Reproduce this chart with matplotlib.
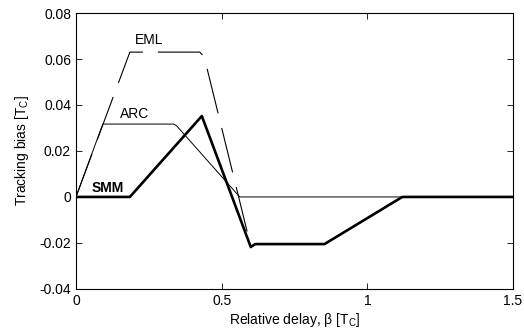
import matplotlib
matplotlib.use("Agg")
import matplotlib.pyplot as plt

plt.rcParams['font.family'] = ['Liberation Sans', 'DejaVu Sans']
plt.rcParams['mathtext.fontset'] = 'custom'
plt.rcParams['mathtext.rm'] = 'Liberation Sans'
plt.rcParams['font.size'] = 10

# curves (x in chips, y in chips)
eml_x = [0, 0.185, 0.425, 0.44, 0.60, 0.615, 0.853, 1.12, 1.5]
eml_y = [0, 0.063, 0.063, 0.061, -0.0215, -0.0205, -0.0205, 0, 0]

arc_x = [0, 0.092, 0.335, 0.345, 0.562, 1.5]
arc_y = [0, 0.0317, 0.0317, 0.031, 0, 0]

smm_x = [0, 0.185, 0.432, 0.60, 0.615, 0.853, 1.12, 1.5]
smm_y = [0, 0, 0.0352, -0.0218, -0.0205, -0.0205, 0, 0]

xticks = [0, 0.5, 1, 1.5]
yticks = [-0.04, -0.02, 0, 0.02, 0.04, 0.06, 0.08]
ytick_labels = ['-0.04', '-0.02', '0', '0.02', '0.04', '0.06', '0.08']

fig = plt.figure(figsize=(5.24, 3.34), dpi=100)
ax = fig.add_axes([0.145, 0.135, 0.834, 0.826])

lw = 0.8
ax.plot(eml_x, eml_y, color='black', lw=lw, linestyle=(0, (33.0 / lw, 10.8 / lw)))
ax.plot(arc_x, arc_y, color='black', lw=0.7)
ax.plot(smm_x, smm_y, color='black', lw=1.9)

ax.text(0.25, 0.0683, 'EML', ha='center', va='center')
ax.text(0.202, 0.0361, 'ARC', ha='center', va='center')
ax.text(0.108, 0.0041, 'SMM', ha='center', va='center', fontweight='bold')

ax.set_xlim(0, 1.5)
ax.set_ylim(-0.04, 0.08)
ax.set_xticks(xticks)
ax.set_xticklabels(['0', '0.5', '1', '1.5'])
ax.set_yticks(yticks)
ax.set_yticklabels(ytick_labels)
ax.tick_params(direction='in', top=True, right=True, length=4, width=0.6)
for s in ax.spines.values():
    s.set_linewidth(0.8)

ax.set_xlabel(r'Relative delay, β [T$_\mathrm{C}$]', labelpad=2)
ax.set_ylabel(r'Tracking bias [T$_\mathrm{C}$]', labelpad=6)

fig.savefig('out.png', dpi=100)
